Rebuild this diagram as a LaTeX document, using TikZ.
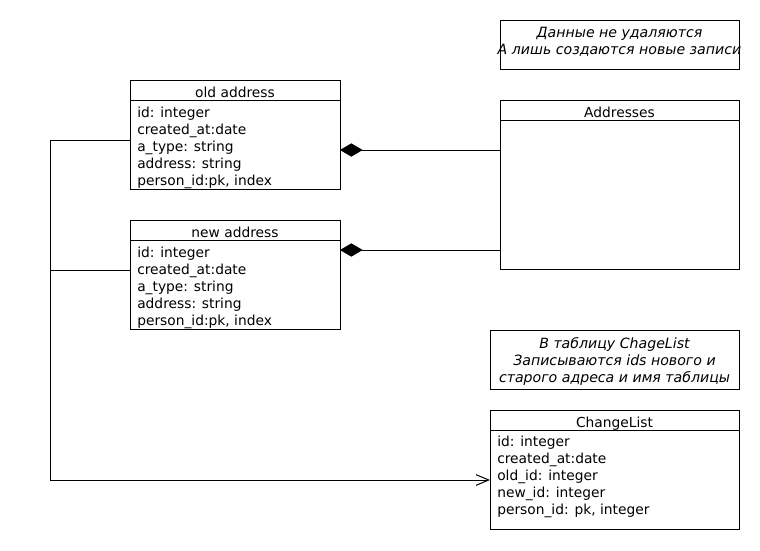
\documentclass[tikz,border=0pt]{standalone}
\usepackage{fontspec}
\setmainfont{DejaVu Sans}
\usetikzlibrary{fit,arrows.meta}
\begin{document}
\begin{tikzpicture}[x=0.75pt,y=-0.75pt,
  box/.style={draw, line width=0.75pt, inner sep=0pt, fit={#1}},
  attr/.style={anchor=north west, align=left, inner sep=0pt, font=\fontsize{10.35}{12.75}\selectfont},
  head/.style={inner sep=0pt, font=\fontsize{10.35}{12.75}\selectfont},
  notetxt/.style={inner sep=0pt, align=center, font=\fontsize{10.6}{12.6}\selectfont\itshape},
  conn/.style={line width=0.75pt},
  every node/.style={text depth=0pt}]
\useasboundingbox (0,0) rectangle (760,550);
% note 1
\node[box={(500,20) (739,69)}] (note1) {};
\node[notetxt] (note1t) at (619.5,40.5) {Данные не удаляются\\А лишь создаются новые записи};
% old address
\node[box={(130,80) (340,189)}] (old) {};
\draw[line width=0.75pt] (130,100) -- (340,100);
\node[head] (oldh) at (235,92) {old address};
\node[attr] (olda) at (137,106.5) {id: integer\\created\_at:date\\a\_type: string\\address: string\\person\_id:pk, index};
% Addresses
\node[box={(500,100) (739,269)}] (addr) {};
\draw[line width=0.75pt] (500,120) -- (739,120);
\node[head] (addrh) at (619.5,112) {Addresses};
% new address
\node[box={(130,220) (340,329)}] (new) {};
\draw[line width=0.75pt] (130,240) -- (340,240);
\node[head] (newh) at (235,232) {new address};
\node[attr] (newa) at (137,246.5) {id: integer\\created\_at:date\\a\_type: string\\address: string\\person\_id:pk, index};
% note 2
\node[box={(490,330) (739,389)}] (note2) {};
\node[notetxt] (note2t) at (614.5,360) {В таблицу ChageList\\Записываются ids нового и\\старого адреса и имя таблицы};
% ChangeList
\node[box={(490,410) (739,529)}] (chg) {};
\draw[line width=0.75pt] (490,430) -- (739,430);
\node[head] (chgh) at (614.5,422) {ChangeList};
\node[attr] (chga) at (497,435.5) {id: integer\\created\_at:date\\old\_id: integer\\new\_id: integer\\person\_id: pk, integer};
% connector endpoints
\coordinate (o1) at (340,150);
\coordinate (a1) at (500,150);
\coordinate (n1) at (340,250);
\coordinate (a2) at (500,250);
\coordinate (oL) at (130,140);
\coordinate (nL) at (130,270);
\coordinate (j1) at (50,140);
\coordinate (j2) at (50,270);
\coordinate (j3) at (50,480);
\coordinate (cL) at (490,480);
\draw[conn, {Diamond[fill=black,length=17pt,width=10pt]}-] (o1) -- (a1);
\draw[conn, {Diamond[fill=black,length=17pt,width=10pt]}-] (n1) -- (a2);
\draw[conn, -{Straight Barb[length=9.5pt,width=8pt,line width=0.75pt]}] (oL) -- (j1) -- (j3) -- (cL);
\draw[conn] (nL) -- (j2);
\end{tikzpicture}
\end{document}
